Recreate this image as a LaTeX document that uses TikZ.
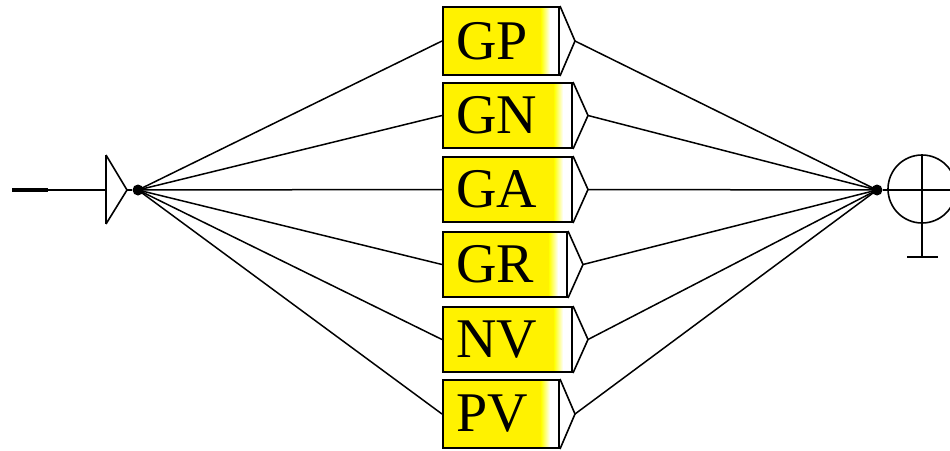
\documentclass[tikz,border=0pt]{standalone}
\usepackage{fontspec}
\setmainfont{Liberation Serif}
\begin{document}
\begin{tikzpicture}[x=1pt,y=-1pt,
  box/.style={draw=black, line width=2pt, inner sep=0pt, anchor=center,
    font=\fontsize{56}{60}\selectfont, align=left,
    path picture={
      \fill[yellow] (path picture bounding box.north west) rectangle ([xshift=-18pt]path picture bounding box.south east);
      \shade[left color=yellow, right color=white] ([xshift=-18pt]path picture bounding box.north east) rectangle ([xshift=-9pt]path picture bounding box.south east);
    }},
  wire/.style={line width=1.5pt, black},
  dot/.style={circle, fill=black, inner sep=0pt, minimum size=11pt},
  tipline/.style={line width=1.6pt, black, line join=miter}
]
\useasboundingbox (0,0) rectangle (950,450);
\fill[white] (0,0) rectangle (950,450);

% boxes: name, center x, center y, width, height, label
\foreach \n/\cx/\cy/\w/\h/\t in {gp/501/41/116/68/GP, gn/507.5/115.5/129/65/GN, ga/507.5/189.5/129/65/GA, gr/505/264.5/124/65/GR, nv/507.5/339.5/129/65/NV, pv/501/414/116/68/PV}{
  \node[box, minimum width=\w pt, minimum height=\h pt, text width=\w pt-26pt] (\n) at (\cx,\cy) {\hspace*{0pt}\t};
  \coordinate (\n tip) at ([xshift=15pt]\n.east);
  \draw[tipline] (\n.north east) -- (\n tip) -- (\n.south east);
}

% left junction and input
\coordinate (inA) at (12,190);
\coordinate (inB) at (48,190);
\coordinate (trTop) at (106,155);
\coordinate (trBot) at (106,224);
\coordinate (trMid) at (106,190);
\coordinate (trTip) at (127,190);
\node[dot] (lj) at (138,190) {};
\draw[line width=4pt] (inA) -- (inB);
\draw[wire] (inB) -- (trMid);
\draw[line width=2pt] (trTop) -- (trBot);
\draw[tipline] (trTop) -- (trTip) -- (trBot);
\draw[wire] (trTip) -- (lj);

% right junction and output
\node[dot] (rj) at (877,190) {};
\node[circle, draw=black, line width=1.6pt, minimum size=68pt, inner sep=0pt] (out) at (922,189) {};
\coordinate (outE) at (950,190);
\coordinate (stemB) at (922,257);
\coordinate (barL) at (907,257);
\coordinate (barR) at (938,257);
\draw[wire] (rj) -- (outE);
\draw[line width=1.8pt] (out.north) -- (stemB);
\draw[line width=1.8pt] (barL) -- (barR);

% connectors
\foreach \n in {gp,gn,ga,gr,nv,pv}{
  \draw[wire] (lj.center) -- (\n.west);
  \draw[wire] (\n tip) -- (rj.center);
}
\end{tikzpicture}
\end{document}
